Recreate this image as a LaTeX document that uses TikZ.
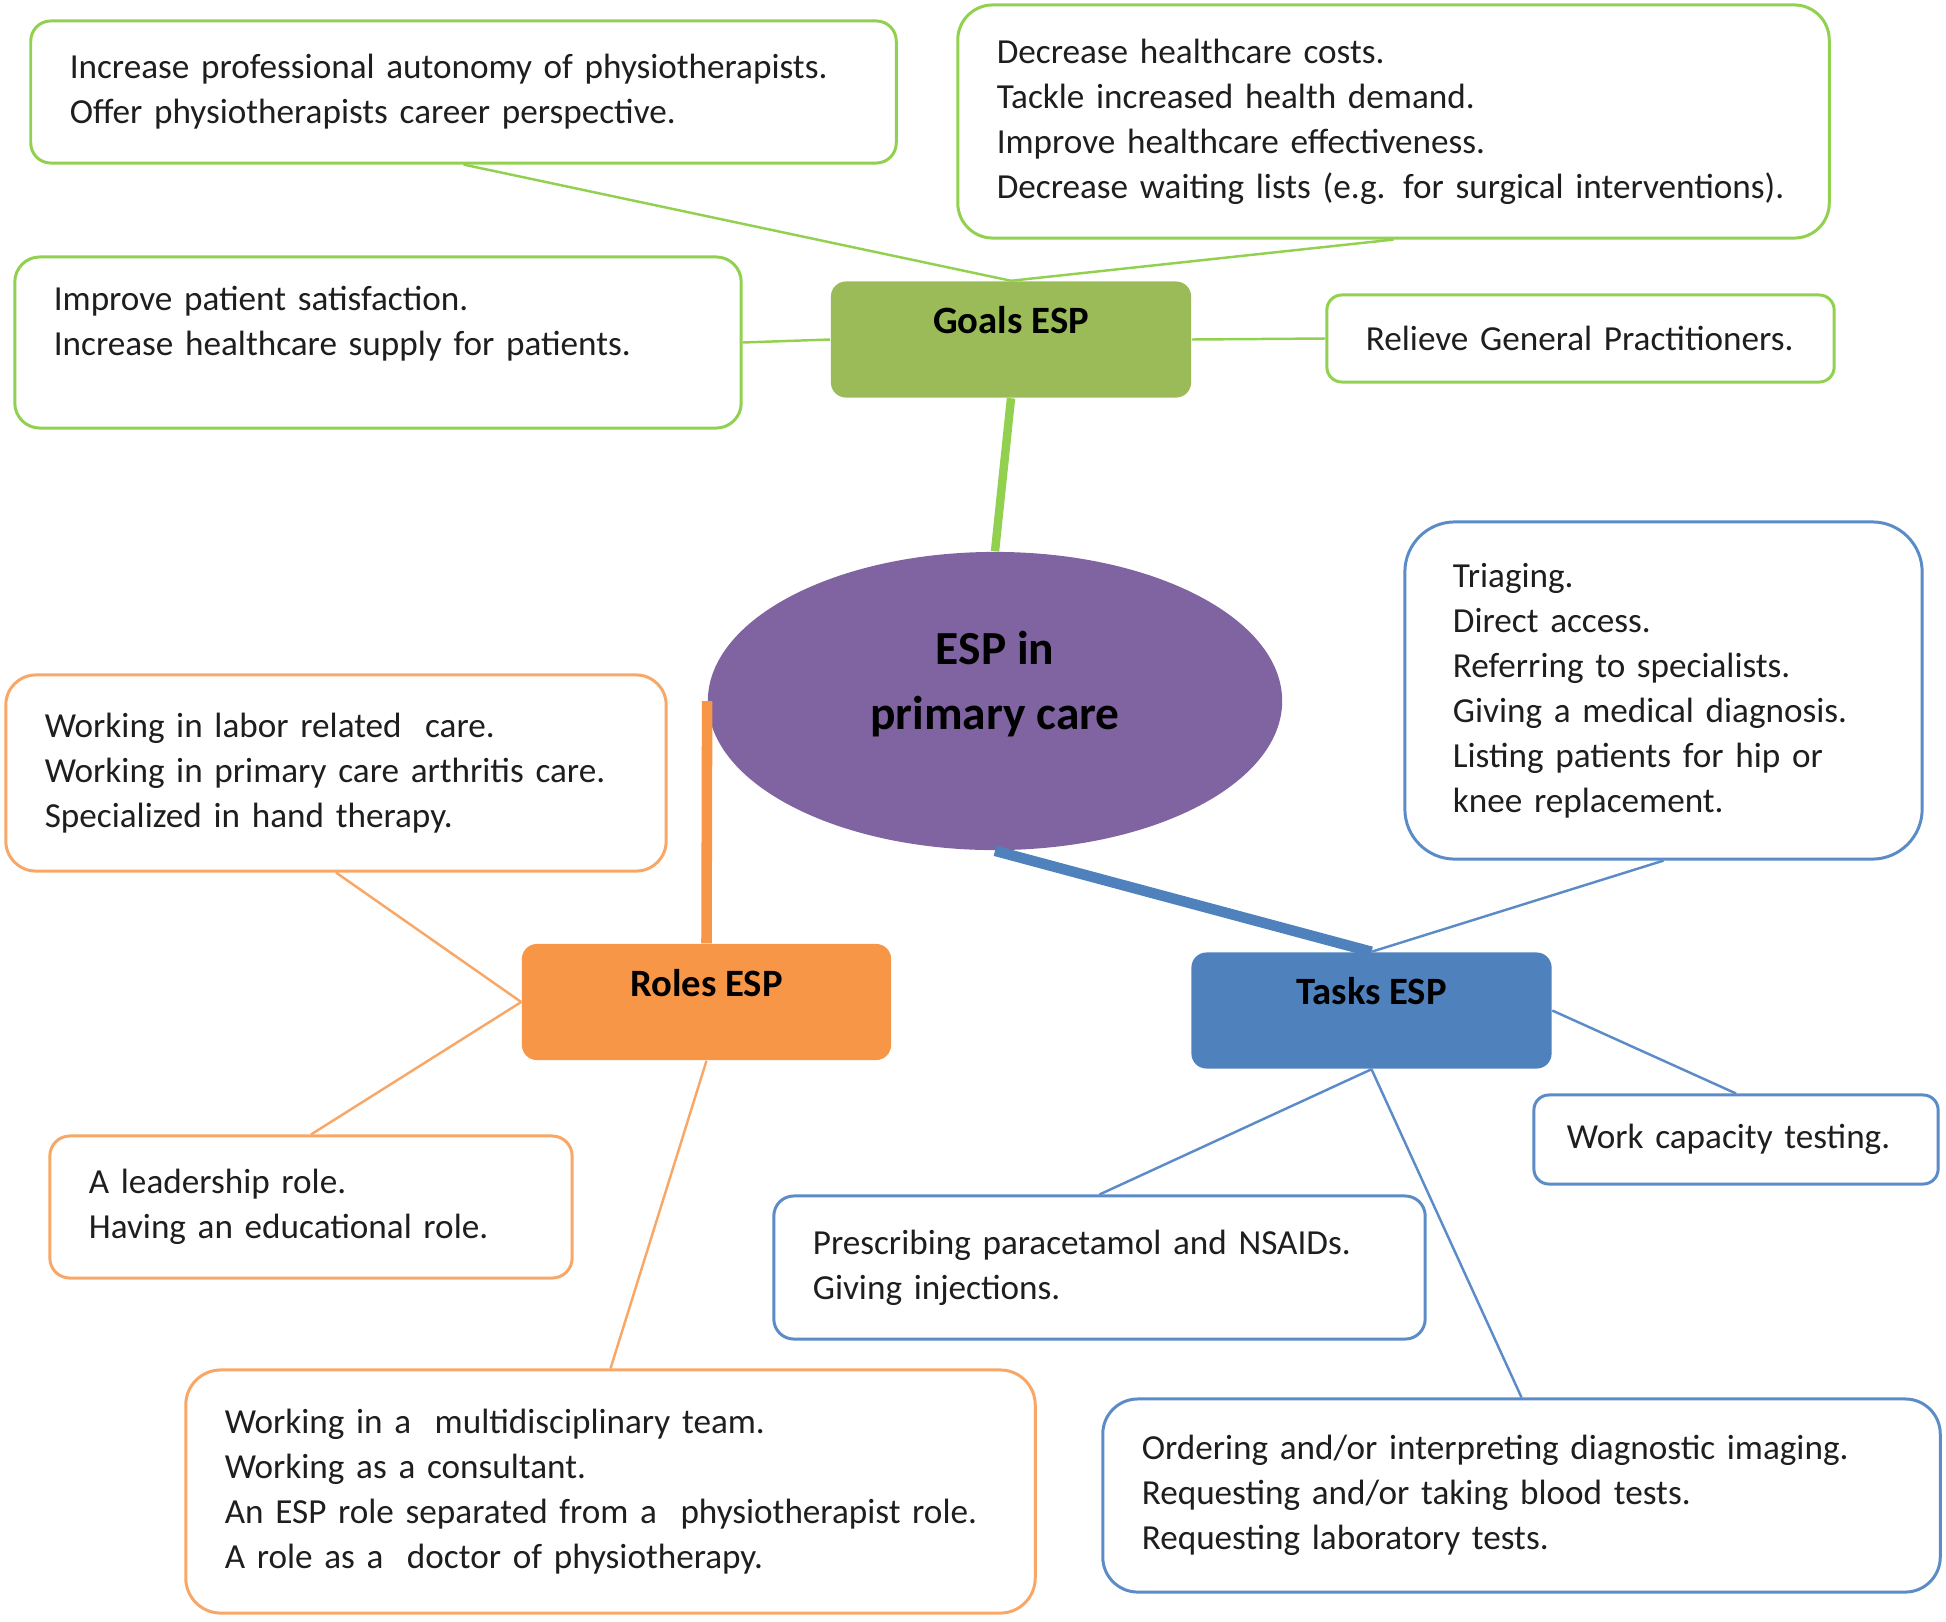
\documentclass[tikz,border=0pt]{standalone}
\usepackage{fontspec}
\setmainfont{Carlito}
\usetikzlibrary{shapes.geometric}

\definecolor{goalgreen}{HTML}{9BBB59}
\definecolor{goalline}{HTML}{92D050}
\definecolor{roleorange}{HTML}{F79646}
\definecolor{roleline}{HTML}{F8A766}
\definecolor{taskblue}{HTML}{4F81BD}
\definecolor{taskline}{HTML}{5C8CC8}
\definecolor{esppurple}{HTML}{8064A2}
\definecolor{inktext}{HTML}{1E1E1E}

\newcommand\leaffont{\fontsize{10}{12.8}\selectfont\spaceskip=0.17em plus 0.08em minus 0.04em\relax\hyphenpenalty=10000\relax}

\tikzset{
  leaf/.style={draw=#1, line width=0.85pt, fill=white, align=left, inner xsep=0.39cm, inner ysep=0pt,
    text=inktext, font=\leaffont},
  hub/.style={fill=#1, rounded corners=0.15cm, minimum width=3.6cm, minimum height=1.16cm,
    text height=0.25cm, text depth=0.37cm, font=\bfseries\fontsize{11}{13}\selectfont},
  twig/.style={draw=#1, line width=0.7pt},
  trunk/.style={draw=#1, line width=3pt}
}

\begin{document}
\begin{tikzpicture}[x=0.01cm, y=-0.01cm]
    \useasboundingbox (0,0) rectangle (1946,1621);
    % centre and the three hubs
    \node[ellipse, fill=esppurple, inner sep=0pt, minimum width=5.74cm, minimum height=2.98cm, align=center,
        text height=1.0cm, text depth=0.43cm, font=\bfseries\fontsize{13.5}{18.4}\selectfont] (esp) at (995,701) {ESP in\\primary care};
    \node[hub=goalgreen] (goals) at (1011,339.5) {Goals ESP};
    \node[hub=roleorange, minimum width=3.69cm] (roles) at (706.5,1002) {Roles ESP};
    \node[hub=taskblue] (tasks) at (1371.5,1010.5) {Tasks ESP};

    % goals
    \node[leaf=goalline, rounded corners=0.2cm, text width=7.87cm, minimum height=1.42cm] (autonomy) at (463.5,92)
        {Increase professional autonomy of physiotherapists.\\Offer physiotherapists career perspective.};
    \node[leaf=goalline, rounded corners=0.35cm, text width=7.93cm, minimum height=2.33cm] (costs) at (1393.5,121.5)
        {Decrease healthcare costs.\\Tackle increased health demand.\\Improve healthcare effectiveness.\\Decrease waiting lists (e.g. for surgical interventions).};
    \node[leaf=goalline, rounded corners=0.25cm, text width=6.48cm, minimum height=1.71cm,
        text height=0.25cm, text depth=0.88cm] (satisfaction) at (378,342.5)
        {Improve patient satisfaction.\\Increase healthcare supply for patients.};
    \node[leaf=goalline, rounded corners=0.15cm, text width=4.29cm, minimum height=0.87cm] (relieve) at (1580.5,338.5)
        {Relieve General Practitioners.};

    % roles
    \node[leaf=roleline, rounded corners=0.3cm, text width=5.82cm, minimum height=1.96cm] (labor) at (336,773)
        {Working in labor related\ \ care.\\Working in primary care arthritis care.\\Specialized in hand therapy.};
    \node[leaf=roleline, rounded corners=0.2cm, text width=4.44cm, minimum height=1.42cm] (leader) at (311,1207)
        {A leadership role.\\Having an educational role.};
    \node[leaf=roleline, rounded corners=0.35cm, text width=7.71cm, minimum height=2.43cm] (team) at (610.5,1491.5)
        {Working in a\ \ multidisciplinary team.\\Working as a consultant.\\An ESP role separated from a\ \ physiotherapist role.\\A role as a\ \ doctor of physiotherapy.};

    % tasks
    \node[leaf=taskline, rounded corners=0.5cm, inner xsep=0.48cm, text width=4.21cm, minimum height=3.37cm] (triage) at (1663.5,690.5)
        {Triaging.\\Direct access.\\Referring to specialists.\\Giving a medical diagnosis.\\Listing patients for hip or\\knee replacement.};
    \node[leaf=taskline, rounded corners=0.15cm, inner xsep=0.33cm, text width=3.38cm, minimum height=0.89cm] (capacity) at (1736,1139.5)
        {Work capacity testing.};
    \node[leaf=taskline, rounded corners=0.2cm, text width=5.73cm, minimum height=1.43cm] (prescribe) at (1099.5,1267.5)
        {Prescribing paracetamol and NSAIDs.\\Giving injections.};
    \node[leaf=taskline, rounded corners=0.35cm, text width=7.59cm, minimum height=1.93cm] (imaging) at (1521.5,1495.5)
        {Ordering and/or interpreting diagnostic imaging.\\Requesting and/or taking blood tests.\\Requesting laboratory tests.};

    % connectors
    \draw[twig=goalline] (autonomy.south) -- (goals.north);
    \draw[twig=goalline] (costs.south) -- (goals.north);
    \draw[twig=goalline] (satisfaction.east) -- (goals.west);
    \draw[twig=goalline] (goals.east) -- (relieve.west);
    \draw[trunk=goalline, line width=2.4pt] (goals.south) -- (esp.north);

    \draw[trunk=roleorange] (esp.west) -- (roles.north);
    \draw[twig=roleline] (labor.south) -- (roles.west);
    \draw[twig=roleline] (roles.west) -- (leader.north);
    \draw[twig=roleline] (roles.south) -- (team.north);

    \draw[trunk=taskblue] (esp.south) -- (tasks.north);
    \draw[twig=taskline] (triage.south) -- (tasks.north);
    \draw[twig=taskline] (tasks.east) -- (capacity.north);
    \draw[twig=taskline] (tasks.south) -- (prescribe.north);
    \draw[twig=taskline] (tasks.south) -- (imaging.north);
\end{tikzpicture}
\end{document}
